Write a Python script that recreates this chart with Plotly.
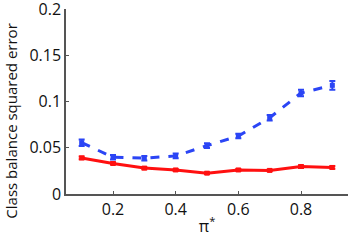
import plotly.graph_objects as go

x_vals = [0.1, 0.2, 0.3, 0.4, 0.5, 0.6, 0.7, 0.8, 0.9]
red_vals = [0.039, 0.033, 0.028, 0.026, 0.0225, 0.026, 0.0255, 0.0297, 0.0287]
red_err = [0.0015, 0.0012, 0.0012, 0.001, 0.001, 0.001, 0.001, 0.0015, 0.0015]
blue_vals = [0.0555, 0.0398, 0.0387, 0.0412, 0.0523, 0.0627, 0.0824, 0.1092, 0.1175]
blue_err = [0.0035, 0.0025, 0.0025, 0.0025, 0.0025, 0.0025, 0.003, 0.0035, 0.0048]
x_ticks = [0.2, 0.4, 0.6, 0.8]
x_tick_labels = ["0.2", "0.4", "0.6", "0.8"]
y_ticks = [0, 0.05, 0.1, 0.15, 0.2]
y_tick_labels = ["0", "0.05", "0.1", "0.15", "0.2"]
y_title = "Class balance squared error"

fig = go.Figure()
fig.add_trace(go.Scatter(
    x=x_vals, y=blue_vals, mode="lines+markers",
    line=dict(color="#2b45f5", width=3, dash="dash"),
    marker=dict(color="#2b45f5", size=5, symbol="square"),
    error_y=dict(type="data", array=blue_err, color="#2b45f5", thickness=2, width=3),
))
fig.add_trace(go.Scatter(
    x=x_vals, y=red_vals, mode="lines+markers",
    line=dict(color="#ff1010", width=3),
    marker=dict(color="#ff1010", size=5, symbol="square"),
    error_y=dict(type="data", array=red_err, color="#ff1010", thickness=2, width=3),
))

font_family = "Open Sans, Liberation Sans, sans-serif"
fig.update_layout(
    width=349, height=240,
    margin=dict(l=66, r=1, t=9, b=46),
    paper_bgcolor="white", plot_bgcolor="white",
    showlegend=False,
    font=dict(family=font_family, size=16, color="#111"),
    xaxis=dict(
        range=[0.05, 0.95], tickvals=x_ticks, ticktext=x_tick_labels,
        ticks="inside", ticklen=3, tickcolor="#555",
        showline=True, linecolor="#555", linewidth=1.5,
        showgrid=False, zeroline=False, automargin=False,
        title=dict(text="π<sup>*</sup>", standoff=2, font=dict(size=16)),
        tickfont=dict(size=16),
    ),
    yaxis=dict(
        range=[0, 0.20002], tickvals=y_ticks, ticktext=y_tick_labels,
        ticks="inside", ticklen=3, tickcolor="#555",
        showline=True, linecolor="#555", linewidth=1.5,
        showgrid=False, zeroline=False, automargin=False,
        ticklabeloverflow="allow",
        tickfont=dict(size=16),
    ),
    annotations=[dict(
        text=y_title, textangle=-90, showarrow=False,
        xref="paper", yref="paper", x=-0.196, y=0.395,
        xanchor="center", yanchor="middle",
        font=dict(size=15, family=font_family, color="#111"),
    )],
)

fig.write_html("out.html", config={"displayModeBar": False},
               post_script="document.body.style.margin='0';")
